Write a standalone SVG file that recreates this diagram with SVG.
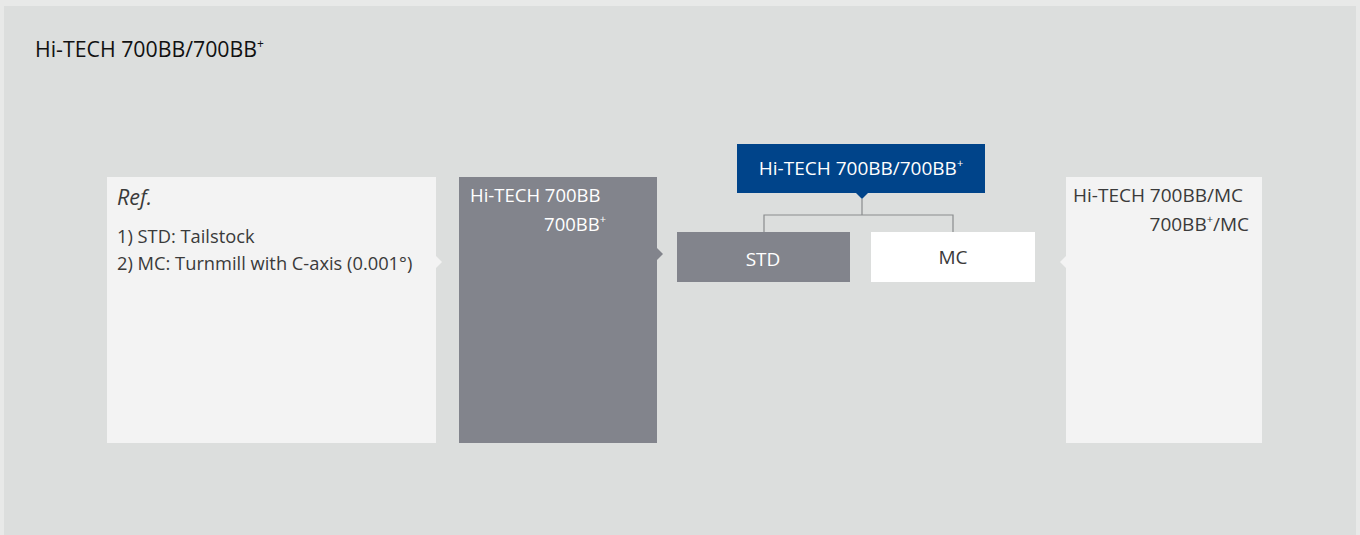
<svg xmlns="http://www.w3.org/2000/svg" width="1360" height="535" viewBox="0 0 1360 535">
<style>
text{font-family:"Open Sans","Noto Sans","Liberation Sans",sans-serif;font-size:18.5px}
.dark{fill:#3a3a3a}
.white{fill:#ffffff}
.light{fill:#f3f3f3}
.gray{fill:#82848c}
.conn{stroke:#8a8c8e;stroke-width:1.2;fill:none}
.sup{font-size:11px}
</style>
<rect x="0" y="0" width="1360" height="535" fill="#e8e9e8"/>
<rect x="4" y="6" width="1352" height="529" fill="#dcdedd"/>
<text x="35" y="57" style="font-size:21.3px" fill="#111">Hi-TECH 700BB/700BB<tspan class="sup" dy="-9" style="font-size:12px">+</tspan></text>

<g id="ref">
<rect x="107" y="177" width="329" height="266" class="light"/>
<polygon points="436,256 442,262 436,268" class="light"/>
<text x="117" y="205" class="dark" style="font-style:italic;font-size:21.5px">Ref.</text>
<text x="117" y="243" class="dark" style="font-size:18.3px">1) STD: Tailstock</text>
<text x="117" y="270" class="dark" style="font-size:18.3px">2) MC: Turnmill with C-axis (0.001°)</text>
</g>

<g id="model">
<rect x="459" y="177" width="198" height="266" class="gray"/>
<polygon points="657,248 663,254 657,260" class="gray"/>
<text x="470" y="202" class="white">Hi-TECH 700BB</text>
<text x="606" y="231" class="white" text-anchor="end">700BB<tspan class="sup" dy="-8">+</tspan></text>
</g>

<g id="top">
<rect x="737" y="144" width="248" height="49" fill="#00448a"/>
<polygon points="856,193 862,199 868,193" fill="#00448a"/>
<text x="861" y="175" class="white" text-anchor="middle" style="font-size:19px">Hi-TECH 700BB/700BB<tspan class="sup" dy="-8">+</tspan></text>
</g>

<g id="connectors">
<path class="conn" d="M862,199 V215 M764,232 V215 H953 V232"/>
</g>

<g id="std">
<rect x="677" y="232" width="173" height="50" class="gray"/>
<text x="763" y="266" class="white" text-anchor="middle" style="font-size:19px">STD</text>
</g>

<g id="mc">
<rect x="871" y="232" width="164" height="50" fill="#ffffff"/>
<text x="953" y="264" class="dark" text-anchor="middle" style="font-size:19px">MC</text>
</g>

<g id="result">
<rect x="1066" y="177" width="196" height="266" class="light"/>
<polygon points="1066,256 1060,262 1066,268" class="light"/>
<text x="1073" y="202" class="dark" style="font-size:19px">Hi-TECH 700BB/MC</text>
<text x="1249" y="231" class="dark" text-anchor="end" style="font-size:19px">700BB<tspan class="sup" dy="-8">+</tspan><tspan dy="8">/MC</tspan></text>
</g>
</svg>
